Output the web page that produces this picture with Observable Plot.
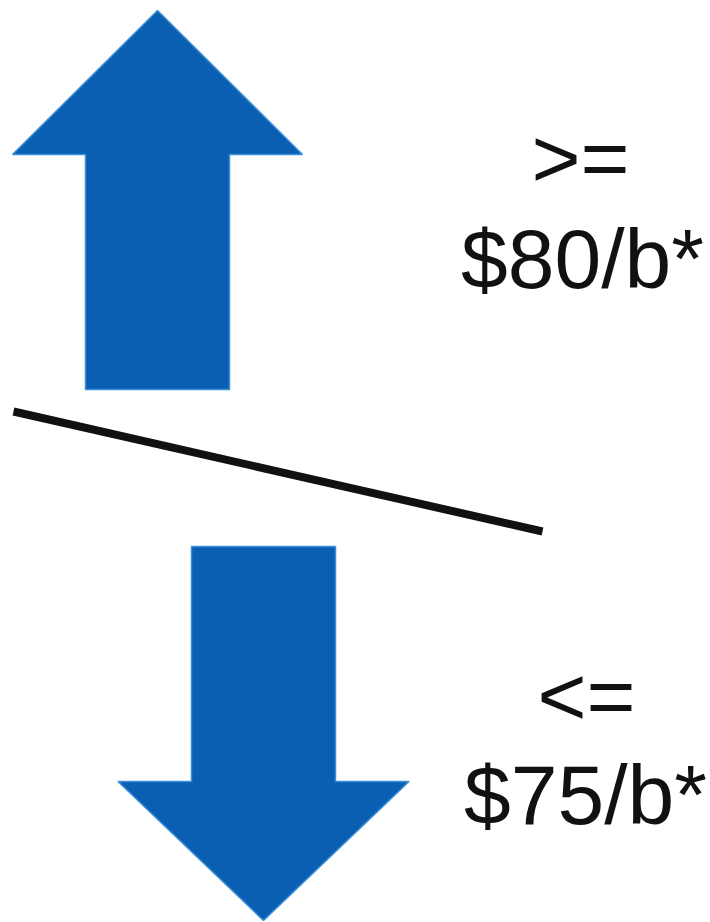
<!DOCTYPE html>
<html>
<head>
<meta charset="utf-8">
<script src="https://cdn.jsdelivr.net/npm/d3@7"></script>
<script src="https://cdn.jsdelivr.net/npm/@observablehq/plot@0.6"></script>
<style>
  html, body { margin: 0; padding: 0; background: #fff; }
  #chart svg { display: block; }
</style>
</head>
<body>
<div id="chart"></div>
<script>
// Arrow specs (diagram units = pixels of the 710x922 canvas)
const arrowNames   = ["up", "down"];
const arrowCenterX = [157, 263];
const arrowTipY    = [10, 920];
const arrowHeadY   = [154, 781];
const arrowTailY   = [389, 546];
const arrowHeadHalf  = [145, 145.5];
const arrowShaftHalf = [72, 72];

// Divider line endpoints
const dividerX = [13, 542];
const dividerY = [411, 531];

// Labels
const labelText = [">=", "$80/b*", "<=", "$75/b*"];
const labelX    = [580, 582, 586, 585];
const labelY    = [186, 287, 724, 823];

const arrowPoints = arrowNames.flatMap((name, i) => {
  const cx = arrowCenterX[i], h = arrowHeadHalf[i], s = arrowShaftHalf[i];
  const pts = [
    [cx, arrowTipY[i]],
    [cx + h, arrowHeadY[i]],
    [cx + s, arrowHeadY[i]],
    [cx + s, arrowTailY[i]],
    [cx - s, arrowTailY[i]],
    [cx - s, arrowHeadY[i]],
    [cx - h, arrowHeadY[i]],
    [cx, arrowTipY[i]]
  ];
  return pts.map(([x, y]) => ({name, x, y}));
});

const divider = dividerX.map((x, i) => ({x, y: dividerY[i]}));
const labels = labelText.map((t, i) => ({t, x: labelX[i], y: labelY[i]}));

const chart = Plot.plot({
  width: 710,
  height: 922,
  margin: 0,
  x: {domain: [0, 710], range: [0, 710], axis: null},
  y: {domain: [0, 922], range: [0, 922], axis: null},
  marks: [
    Plot.line(arrowPoints, {
      x: "x", y: "y", z: "name",
      fill: "#0b5fb2", stroke: "#3d8fd8", strokeWidth: 1.5,
      strokeLinejoin: "miter", curve: "linear-closed"
    }),
    Plot.line(divider, {x: "x", y: "y", stroke: "#111111", strokeWidth: 8, strokeLinecap: "butt"}),
    Plot.text(labels, {
      x: "x", y: "y", text: "t",
      fontSize: 84, fontFamily: "Liberation Sans, Arial, sans-serif",
      fill: "#111111", textAnchor: "middle", lineAnchor: "bottom"
    })
  ]
});
document.getElementById("chart").appendChild(chart);
</script>
</body>
</html>
